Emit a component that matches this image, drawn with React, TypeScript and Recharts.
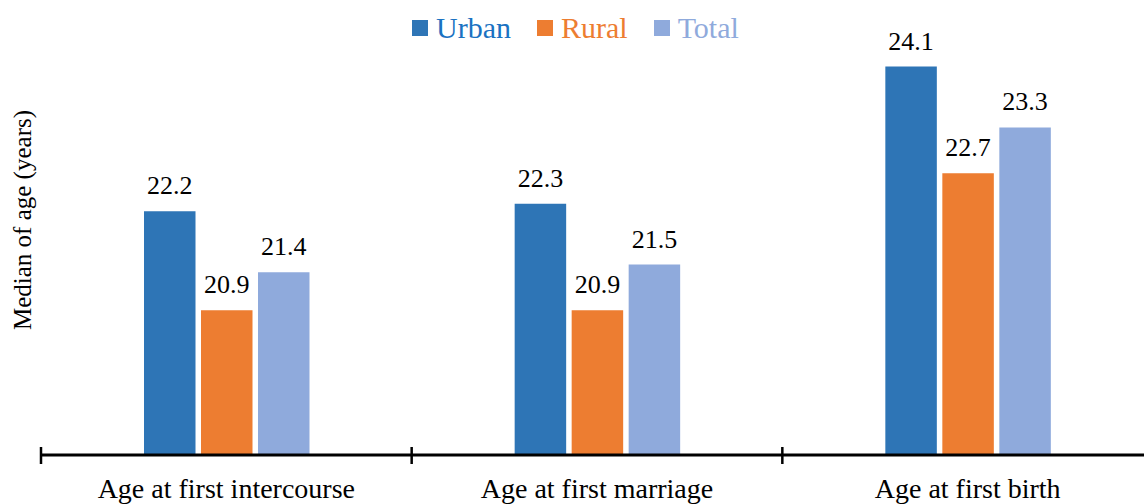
import React from 'react';
import { BarChart, Bar, XAxis, YAxis, LabelList } from 'recharts';

const categories = ['Age at first intercourse', 'Age at first marriage', 'Age at first birth'];
const urban = [22.2, 22.3, 24.1];
const rural = [20.9, 20.9, 22.7];
const total = [21.4, 21.5, 23.3];
const seriesNames = ['Urban', 'Rural', 'Total'];
const seriesKeys = ['urban', 'rural', 'total'];
const seriesColors = ['#2E75B6', '#ED7D31', '#8FAADC'];
const legendTextColors = ['#1A72C2', '#ED7D31', '#8FAADC'];
const yDomain = [19, 25];
const yLabel = 'Median of age (years)';

const data = categories.map((c, i) => ({ name: c, urban: urban[i], rural: rural[i], total: total[i] }));

const FONT = "'Liberation Serif', Tinos, 'Times New Roman', 'DejaVu Serif', serif";
const W = 1160;
const H = 504;
const MARGIN = { top: -2, right: 7, left: 0, bottom: 0 };
const YAXIS_W = 41;
const XAXIS_H = 49;
const AXIS_Y = H - XAXIS_H;
const BAND = (W - MARGIN.left - MARGIN.right - YAXIS_W) / categories.length;

const CategoryTick = (props: any) => {
  const { x, payload, index } = props;
  const left = x - BAND / 2;
  return (
    <g>
      <line x1={left} x2={left} y1={AXIS_Y - 8} y2={AXIS_Y + 9} stroke="#000" strokeWidth={2.5} />
      {index === categories.length - 1 && (
        <line x1={x + BAND / 2} x2={x + BAND / 2} y1={AXIS_Y - 8} y2={AXIS_Y + 9} stroke="#000" strokeWidth={2.5} />
      )}
      <text x={x} y={AXIS_Y + 43} textAnchor="middle" style={{ fontFamily: FONT }} fontSize={28} fill="#000">
        {payload.value}
      </text>
    </g>
  );
};

const ValueLabel = (props: any) => {
  const { x, y, width, value } = props;
  return (
    <text x={x + width / 2} y={y - 17} textAnchor="middle" style={{ fontFamily: FONT }} fontSize={26} fill="#000">
      {Number(value).toFixed(1)}
    </text>
  );
};

const YLabel = () => (
  <text
    x={22}
    y={220}
    transform="rotate(-90 22 220)"
    textAnchor="middle"
    dominantBaseline="central"
    style={{ fontFamily: FONT }}
    fontSize={25}
    fill="#000"
  >
    {yLabel}
  </text>
);

export default function App() {
  return (
    <div
      style={{
        position: 'fixed',
        left: 0,
        top: 0,
        width: 1144,
        height: 504,
        overflow: 'hidden',
        background: '#fff',
        fontFamily: FONT,
      }}
    >
      <BarChart width={W} height={H} data={data} margin={MARGIN} barSize={51.5} barGap={5.5}>
        <YAxis
          domain={yDomain}
          width={YAXIS_W}
          tick={false}
          axisLine={false}
          tickLine={false}
          allowDataOverflow
          label={{ content: () => <YLabel /> }}
        />
        <XAxis
          dataKey="name"
          height={XAXIS_H}
          interval={0}
          tickLine={false}
          axisLine={{ stroke: '#000', strokeWidth: 3 }}
          tick={<CategoryTick />}
        />
        {seriesKeys.map((k, i) => (
          <Bar key={k} dataKey={k} name={seriesNames[i]} fill={seriesColors[i]} isAnimationActive={false}>
            <LabelList dataKey={k} content={<ValueLabel />} />
          </Bar>
        ))}
      </BarChart>
      <div
        style={{
          position: 'absolute',
          top: 10,
          left: 412,
          display: 'flex',
          alignItems: 'center',
          fontFamily: FONT,
          fontSize: 30,
          lineHeight: '36px',
        }}
      >
        {seriesNames.map((n, i) => (
          <div key={n} style={{ display: 'flex', alignItems: 'center', marginRight: 26 }}>
            <span style={{ width: 16, height: 16, background: seriesColors[i], display: 'inline-block', marginRight: 8 }} />
            <span style={{ color: legendTextColors[i] }}>{n}</span>
          </div>
        ))}
      </div>
    </div>
  );
}
